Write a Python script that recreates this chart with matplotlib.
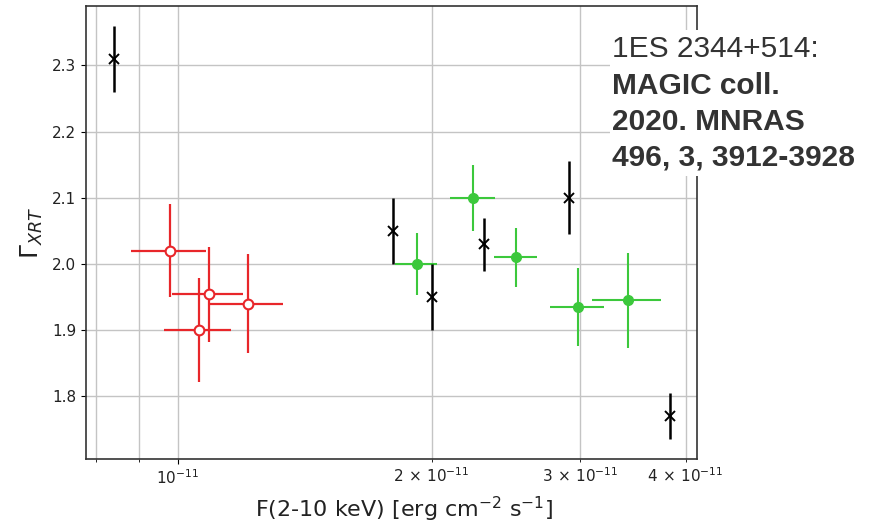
import matplotlib
matplotlib.use("Agg")
import numpy as np
import matplotlib.pyplot as plt
from matplotlib.patches import Rectangle
from matplotlib.ticker import FixedLocator, FixedFormatter

# Flux in units of 1e-11 erg cm^-2 s^-1, photon index from XRT fits
blk_flux = [0.84, 1.80, 2.00, 2.31, 2.91, 3.83]
blk_gamma = [2.31, 2.05, 1.95, 2.03, 2.10, 1.77]
blk_gerr = [0.05, 0.05, 0.05, 0.04, 0.055, 0.035]

grn_flux = [1.92, 2.24, 2.52, 2.98, 3.42]
grn_ferr = [0.11, 0.135, 0.15, 0.22, 0.32]
grn_gamma = [2.00, 2.10, 2.01, 1.935, 1.945]
grn_gerr = [0.047, 0.05, 0.045, 0.059, 0.072]

red_flux = [0.98, 1.09, 1.06, 1.21]
red_ferr = [0.10, 0.106, 0.097, 0.122]
red_gamma = [2.02, 1.954, 1.90, 1.94]
red_gerr = [0.07, 0.072, 0.079, 0.075]

major_x = [1e-11]
minor_x = [8e-12, 9e-12, 2e-11, 3e-11, 4e-11]
minor_lbl = ["", "", r"$2\,\times\,10^{-11}$", r"$3\,\times\,10^{-11}$",
             r"$4\,\times\,10^{-11}$"]
y_ticks = [1.8, 1.9, 2.0, 2.1, 2.2, 2.3]

SCALE = 1e-11
RED = "#e8262a"
GREEN = "#3cc83c"

fig = plt.figure(figsize=(8.77, 5.25), dpi=100, facecolor="white")
ax = fig.add_axes([0.098, 0.1257, 0.697, 0.863])

ax.errorbar(np.array(red_flux) * SCALE, red_gamma,
            xerr=np.array(red_ferr) * SCALE, yerr=red_gerr,
            fmt="o", color=RED, mfc="white", mec=RED, ms=7, mew=1.5,
            elinewidth=1.6, capsize=0, zorder=3)
ax.errorbar(np.array(grn_flux) * SCALE, grn_gamma,
            xerr=np.array(grn_ferr) * SCALE, yerr=grn_gerr,
            fmt="o", color=GREEN, ms=7, elinewidth=1.5, capsize=0, zorder=3)
ax.errorbar(np.array(blk_flux) * SCALE, blk_gamma, yerr=blk_gerr,
            fmt="x", color="black", ms=6.5, mew=1.4, elinewidth=1.8,
            capsize=0, zorder=4)

ax.set_xscale("log")
ax.set_xlim(7.78e-12, 4.13e-11)
ax.set_ylim(1.705, 2.39)
ax.set_yticks(y_ticks)
ax.xaxis.set_major_locator(FixedLocator(major_x))
ax.xaxis.set_major_formatter(FixedFormatter([r"$10^{-11}$"]))
ax.xaxis.set_minor_locator(FixedLocator(minor_x))
ax.xaxis.set_minor_formatter(FixedFormatter(minor_lbl))

ax.grid(True, which="both", axis="x", color="#c4c4c4", lw=1.0)
ax.grid(True, which="major", axis="y", color="#c4c4c4", lw=1.0)
ax.set_axisbelow(True)

ax.tick_params(axis="y", labelsize=11, labelcolor="#222222")
ax.tick_params(axis="x", which="both", labelsize=11, labelcolor="#222222")
for s in ax.spines.values():
    s.set_linewidth(1.2)
    s.set_color("#333333")

ax.set_xlabel(r"F(2-10 keV) [erg cm$^{-2}$ s$^{-1}$]", fontsize=16,
              color="#222222")
ax.xaxis.set_label_coords(0.52, -0.079)
ax.set_ylabel(r"$\Gamma_{XRT}$", fontsize=18, labelpad=5, color="#222222")

# reference box in the upper right corner
W, H = 877.0, 525.0
fig.add_artist(Rectangle((610 / W, 1 - 176 / H), (876 - 610) / W, (176 - 30) / H,
                         transform=fig.transFigure, facecolor="white",
                         edgecolor="none", zorder=10))
lines = [("1ES 2344+514:", "normal", 57),
         ("MAGIC coll.", "bold", 94),
         ("2020. MNRAS", "bold", 130),
         ("496, 3, 3912-3928", "bold", 166)]
for txt, weight, base in lines:
    fig.text(612 / W, 1 - base / H, txt, fontsize=21.5, fontweight=weight,
             family="Liberation Sans", color="#333333", ha="left",
             va="baseline", zorder=11)

fig.savefig("out.png", dpi=100, facecolor="white")
